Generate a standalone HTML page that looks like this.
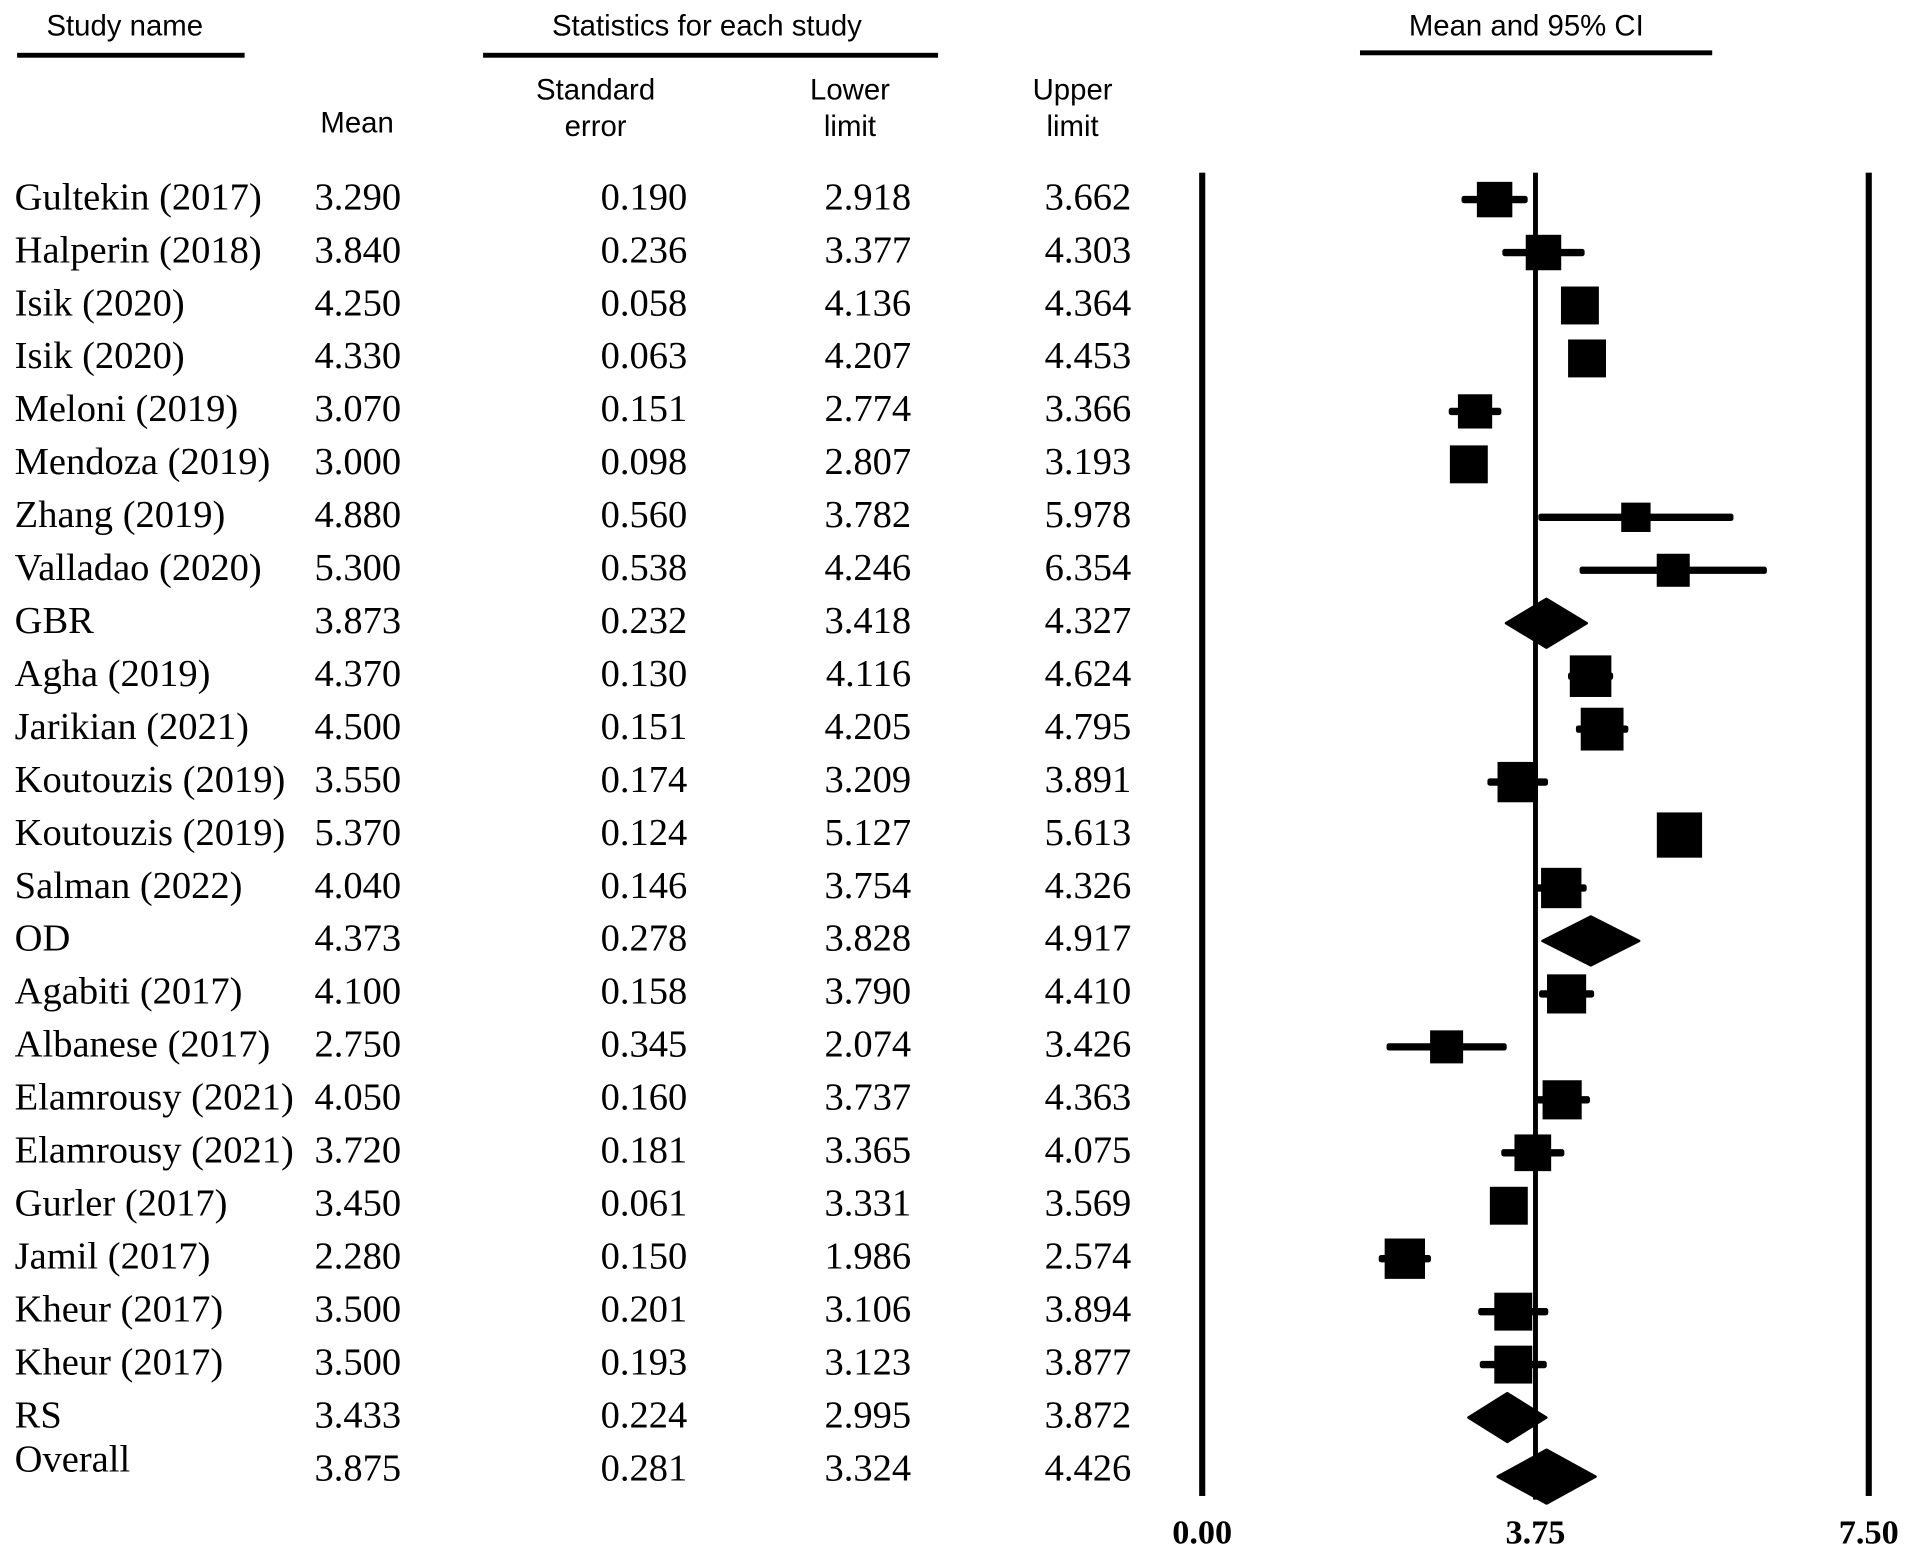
<!DOCTYPE html>
<html><head><meta charset="utf-8"><style>
html,body{margin:0;padding:0;background:#fff}
svg{display:block}
.h{font-family:"Liberation Sans",Arial,sans-serif;font-size:24px;fill:#000}
.t{font-family:"Liberation Serif","Times New Roman",serif;font-size:31.5px;fill:#000}
.ax{font-family:"Liberation Serif",serif;font-size:28px;font-weight:bold;fill:#000}
</style></head><body>
<svg id="chart" width="1914" height="1561" viewBox="0 0 1565 1276" xmlns="http://www.w3.org/2000/svg">
<g>
<text class="h" x="102" y="29" text-anchor="middle">Study name</text>
<rect x="14" y="43" width="186" height="4"/>
<text class="h" x="578" y="29" text-anchor="middle">Statistics for each study</text>
<rect x="395" y="43" width="372" height="4"/>
<text class="h" x="1248" y="29" text-anchor="middle">Mean and 95% CI</text>
<rect x="1112" y="41" width="288" height="4"/>
<text class="h" x="292" y="108" text-anchor="middle">Mean</text>
<text class="h" x="487" y="81" text-anchor="middle">Standard</text>
<text class="h" x="487" y="111" text-anchor="middle">error</text>
<text class="h" x="695" y="81" text-anchor="middle">Lower</text>
<text class="h" x="695" y="111" text-anchor="middle">limit</text>
<text class="h" x="877" y="81" text-anchor="middle">Upper</text>
<text class="h" x="877" y="111" text-anchor="middle">limit</text>
</g>
<g id="rows"></g>
<g id="plot"></g>
</svg>
<script>
const names=["Gultekin (2017)","Halperin (2018)","Isik (2020)","Isik (2020)","Meloni (2019)","Mendoza (2019)","Zhang (2019)","Valladao (2020)","GBR","Agha (2019)","Jarikian (2021)","Koutouzis (2019)","Koutouzis (2019)","Salman (2022)","OD","Agabiti (2017)","Albanese (2017)","Elamrousy (2021)","Elamrousy (2021)","Gurler (2017)","Jamil (2017)","Kheur (2017)","Kheur (2017)","RS","Overall"];
const means=[3.290,3.840,4.250,4.330,3.070,3.000,4.880,5.300,3.873,4.370,4.500,3.550,5.370,4.040,4.373,4.100,2.750,4.050,3.720,3.450,2.280,3.500,3.500,3.433,3.875];
const ses=[0.190,0.236,0.058,0.063,0.151,0.098,0.560,0.538,0.232,0.130,0.151,0.174,0.124,0.146,0.278,0.158,0.345,0.160,0.181,0.061,0.150,0.201,0.193,0.224,0.281];
const lowers=[2.918,3.377,4.136,4.207,2.774,2.807,3.782,4.246,3.418,4.116,4.205,3.209,5.127,3.754,3.828,3.790,2.074,3.737,3.365,3.331,1.986,3.106,3.123,2.995,3.324];
const uppers=[3.662,4.303,4.364,4.453,3.366,3.193,5.978,6.354,4.327,4.624,4.795,3.891,5.613,4.326,4.917,4.410,3.426,4.363,4.075,3.569,2.574,3.894,3.877,3.872,4.426];
const isSummary=[0,0,0,0,0,0,0,0,1,0,0,0,0,0,1,0,0,0,0,0,0,0,0,1,1];
const weights=[29,29,31,31,28,31,24,27,0,34,35,33,37,33,0,32,27,32,30,31,33,31,31,0,0];
const ticks=[0,3.75,7.5];
const tickLabels=["0.00","3.75","7.50"];
const NS="http://www.w3.org/2000/svg";
const x=v=>983+(v-0)*(1528-983)/7.5;
const rowY=i=>160+i*43.3;
function mk(tag,attrs,parent){const e=document.createElementNS(NS,tag);for(const k in attrs)e.setAttribute(k,attrs[k]);parent.appendChild(e);return e;}
const rows=document.getElementById('rows'),plot=document.getElementById('plot');
names.forEach((n,i)=>{
  const y=rowY(i)+11;
  const ny=i===24?y-7:y;
  let t=mk('text',{class:'t',x:12,y:ny},rows);t.textContent=n;
  
  
  const cols=[[328,means[i]],[562,ses[i]],[745,lowers[i]],[925,uppers[i]]];
  cols.forEach(([cx,v])=>{const e=mk('text',{class:'t',x:cx,y:y,'text-anchor':'end'},rows);e.textContent=v.toFixed(3);
    
    });
});
[0,7.5].forEach(v=>{const l=mk('rect',{x:x(v)-2.5,y:141,width:5,height:1082},plot);
  
  });
const c=mk('rect',{x:x(3.75)-2,y:141,width:4,height:1085},plot);


ticks.forEach((v,i)=>{const t=mk('text',{class:'ax',x:x(v),y:1262,'text-anchor':'middle'},plot);t.textContent=tickLabels[i];
  
  });
names.forEach((n,i)=>{
  const y=rowY(i)+(i===24?8:3);
  if(isSummary[i]){
    const h=i===24?44:40;
    const p=mk('polygon',{points:`${x(lowers[i])},${y} ${x(means[i])},${y-h/2} ${x(uppers[i])},${y} ${x(means[i])},${y+h/2}`,fill:'#000','stroke-linejoin':'round',stroke:'#000','stroke-width':2},plot);
    
    
  } else {
    const l=mk('rect',{x:x(lowers[i]),y:y-3,width:x(uppers[i])-x(lowers[i]),height:6,rx:2},plot);
    
    
    const s=weights[i];
    const r=mk('rect',{x:x(means[i])-s/2,y:y-s/2,width:s,height:s},plot);
    
    
  }
});
</script>
</body></html>
